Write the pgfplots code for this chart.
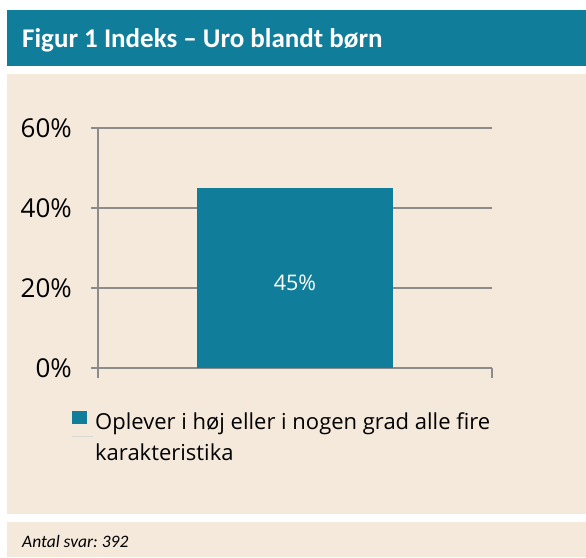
\documentclass[border=0pt]{standalone}
\usepackage{pgfplots}
\pgfplotsset{compat=1.18}
\usepackage{fontspec}
\setmainfont{Open Sans}
\newfontfamily\titlefont{Carlito}
\definecolor{barcol}{RGB}{16,126,154}
\definecolor{beige}{RGB}{245,233,220}
\definecolor{gridc}{RGB}{140,140,140}
\begin{document}
\frenchspacing
\begin{tikzpicture}
\useasboundingbox (0pt,0pt) rectangle (586pt,557pt);
\fill[white] (0pt,0pt) rectangle (586pt,557pt);
\fill[barcol] (7pt,491pt) rectangle (586pt,547pt);
\fill[beige] (7pt,43pt) rectangle (586pt,483pt);
\fill[beige] (7pt,0pt) rectangle (586pt,35pt);
\node[anchor=base west, inner sep=0pt, text=white, font=\titlefont\bfseries\fontsize{27}{32}\selectfont] at (22pt,509pt) {Figur 1 Indeks – Uro blandt børn};
\node[anchor=base west, inner sep=0pt, font=\titlefont\itshape\fontsize{17.5}{21}\selectfont] at (22pt,10pt) {Antal svar:\ 392};
\begin{axis}[
  at={(98pt,189pt)}, anchor=south west,
  scale only axis, width=394pt, height=240pt,
  xmin=-0.5, xmax=0.5, ymin=0, ymax=60,
  axis x line=bottom, axis y line=left,
  axis line style={gridc, line width=1.6pt, -},
  ytick={0,20,40,60},
  xtick={-0.5,0.5}, xticklabels={},
  tick align=outside,
  major tick length=7pt,
  xtick style={gridc, line width=1.6pt, /pgfplots/major tick length=10pt},
  ytick style={gridc, line width=1.6pt},
  ymajorgrids, grid style={gridc, line width=1.6pt},
  /pgf/number format/assume math mode=true,
  yticklabel={\pgfmathprintnumber{\tick}\%},
  yticklabel style={font=\fontsize{26}{30}\selectfont, inner sep=0pt, anchor=east, xshift=-19pt},
  legend style={at={(-0.066,-0.175)}, anchor=north west, draw=none, fill=none, inner sep=0pt,
    font=\fontsize{22}{31}\selectfont, cells={anchor=west, align=left}},
  legend image code/.code={\path (0pt,0pt) -- (21pt,0pt); \fill[barcol] (0pt,13pt) rectangle (15pt,26pt);},
]
\addplot[ybar, bar width=196pt, fill=barcol, draw=none,
  nodes near coords={\pgfmathprintnumber{\pgfplotspointmeta}\%},
  every node near coord/.append style={text=white, anchor=center, yshift=-95pt, font=\fontsize{21.5}{25}\selectfont}]
  coordinates {(0,45)};
\addlegendentry{Oplever i høj eller i nogen grad alle fire\\karakteristika}
\end{axis}
\end{tikzpicture}
\end{document}
